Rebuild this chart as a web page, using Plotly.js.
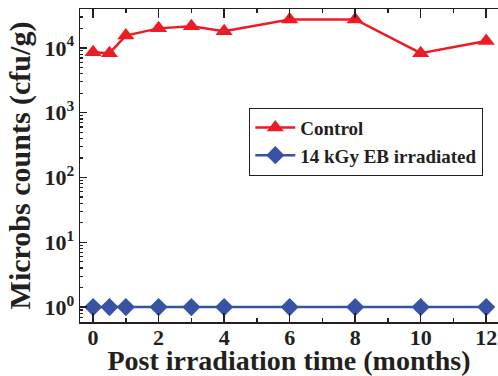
<!DOCTYPE html>
<html><head><meta charset="utf-8">
<script src="https://cdn.plot.ly/plotly-3.0.1.min.js"></script>
<style>body{margin:0;padding:0;background:#fff}#chart{width:498px;height:376px}</style>
</head><body><div id="chart"></div>
<script>
const months = [0, 0.5, 1, 2, 3, 4, 6, 8, 10, 12];
const control = [8600, 8300, 15500, 20000, 21500, 18000, 27500, 27500, 8300, 12800];
const irradiated = [1, 1, 1, 1, 1, 1, 1, 1, 1, 1];
const yTickVals = [1, 10, 100, 1000, 10000];
const yTickText = ['10<sup>0</sup>', '10<sup>1</sup>', '10<sup>2</sup>', '10<sup>3</sup>', '10<sup>4</sup>'];
const xTickVals = [0, 2, 4, 6, 8, 10, 12];

const minorY = [];
for (let e = -1; e <= 4; e++) for (let d = 2; d <= 9; d++) minorY.push(d * Math.pow(10, e));

const font = "'Times New Roman', 'Liberation Serif', Times, serif";
const traces = [
  {x: months, y: control, name: 'Control', mode: 'lines+markers',
   line: {color: '#ed1c24', width: 2.5},
   marker: {symbol: 'triangle-up', size: 15, color: '#ed1c24'}},
  {x: months, y: irradiated, name: '14 kGy EB irradiated', mode: 'lines+markers',
   line: {color: '#3953a4', width: 2.5},
   marker: {symbol: 'diamond', size: 14, color: '#3953a4'}}
];
const layout = {
  width: 498, height: 376,
  margin: {l: 80, r: 0, t: 9, b: 54},
  paper_bgcolor: '#fff', plot_bgcolor: '#fff',
  font: {family: font, color: '#231f20'},
  showlegend: true,
  legend: {x: 0.405, y: 0.685, xanchor: 'left', yanchor: 'top',
    bordercolor: '#231f20', borderwidth: 1, bgcolor: '#fff',
    font: {family: font, size: 19, weight: 'bold', color: '#231f20'},
    itemwidth: 40, tracegroupgap: 0},
  xaxis: {range: [-0.4, 12.36], tickmode: 'array', tickvals: xTickVals,
    showline: true, linecolor: '#231f20', linewidth: 1.5, mirror: 'ticks',
    ticks: 'inside', ticklen: 9, tickwidth: 1.5, tickcolor: '#231f20',
    showgrid: false, zeroline: false, ticklabelstandoff: -5,
    tickfont: {family: font, size: 22, weight: 'bold'},
    minor: {dtick: 1, tick0: 0, ticks: 'inside', ticklen: 4, tickwidth: 1.5, tickcolor: '#231f20', showgrid: false},
    title: {text: 'Post irradiation time (months)', font: {family: font, size: 28, weight: 'bold'}, standoff: 5}},
  yaxis: {type: 'log', range: [-0.23, 4.6], tickmode: 'array', tickvals: yTickVals, ticktext: yTickText,
    showline: true, linecolor: '#231f20', linewidth: 1.5,
    ticks: 'inside', ticklen: 7, tickwidth: 1.5, tickcolor: '#231f20',
    showgrid: false, zeroline: false,
    tickfont: {family: font, size: 22, weight: 'bold'},
    minor: {tickmode: 'array', tickvals: minorY, ticks: 'inside', ticklen: 3, tickwidth: 1.2, tickcolor: '#231f20', showgrid: false},
    title: {text: 'Microbs counts (cfu/g)\u00a0\u00a0\u00a0', font: {family: font, size: 30, weight: 'bold'}, standoff: 5}}
};
Plotly.newPlot('chart', traces, layout, {displayModeBar: false, staticPlot: true});
</script></body></html>
